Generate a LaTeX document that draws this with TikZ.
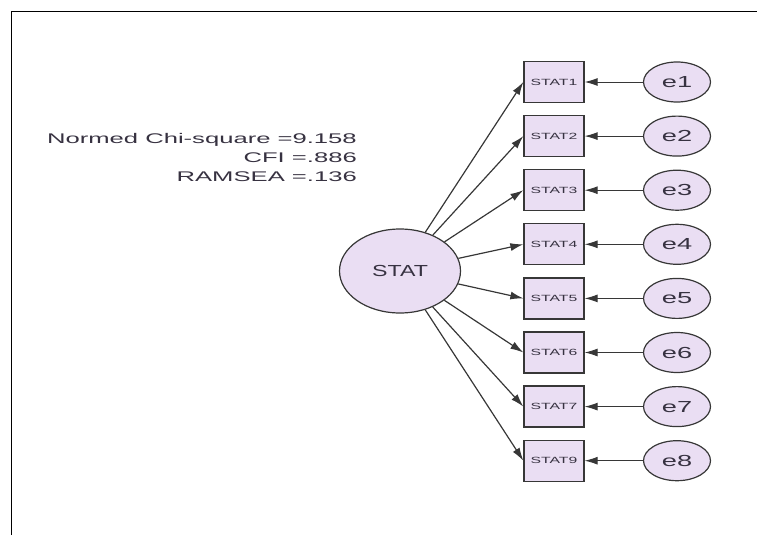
\documentclass[tikz,border=0pt]{standalone}
\usepackage{fontspec}
\setmainfont{Liberation Sans}
\usetikzlibrary{arrows.meta,shapes.geometric}
\definecolor{lav}{RGB}{234,222,243}
\definecolor{edge}{RGB}{55,55,55}
\definecolor{ink}{RGB}{55,50,65}
\newcommand{\hstretch}[2]{\scalebox{#1}[1]{#2}}
\begin{document}
\begin{tikzpicture}[x=1pt,y=-1pt,
    latent/.style={ellipse,draw=edge,fill=lav,line width=1.2pt,minimum width=121pt,minimum height=84pt,inner sep=0pt,font=\fontsize{16}{16}\selectfont,text=ink},
    indicator/.style={rectangle,draw=edge,fill=lav,line width=1.3pt,minimum width=60pt,minimum height=41pt,inner sep=0pt,font=\fontsize{9}{9}\selectfont,text=ink},
    errvar/.style={ellipse,draw=edge,fill=lav,line width=1.2pt,minimum width=67pt,minimum height=40pt,inner sep=0pt,font=\fontsize{16}{16}\selectfont,text=ink},
    load/.style={draw=edge,line width=1.2pt,-{Latex[length=13pt,width=8pt]}},
    resid/.style={draw=edge,line width=0.9pt,-{Latex[length=13pt,width=8pt]}}]
    \useasboundingbox (0,0) rectangle (757,535);
    % frame
    \draw[line width=1.5pt] (11.5,535) -- (11.5,11.5) -- (757,11.5);
    % fit indices
    \node[anchor=east,align=right,inner sep=0pt,text=ink,font=\fontsize{14}{19}\selectfont] (fit) at (357,157)
        {\hstretch{1.83}{Normed Chi-square =9.158}\\\hstretch{1.83}{CFI =.886}\\\hstretch{1.83}{RAMSEA =.136}};
    % factor
    \node[latent] (stat) at (400,271) {\hstretch{1.45}{STAT}};
    % items and errors
    \foreach \i/\lbl in {1/STAT1,2/STAT2,3/STAT3,4/STAT4,5/STAT5,6/STAT6,7/STAT7,8/STAT9}
    {
        \node[indicator] (ind\i) at (554,{82+54.1*(\i-1)}) {\hstretch{1.75}{\lbl}};
        \node[errvar] (err\i) at (677,{82+54.1*(\i-1)}) {\hstretch{1.7}{e\i}};
        \draw[load] (stat) -- (ind\i.west);
        \draw[resid] (err\i) -- (ind\i.east);
    }
\end{tikzpicture}
\end{document}
